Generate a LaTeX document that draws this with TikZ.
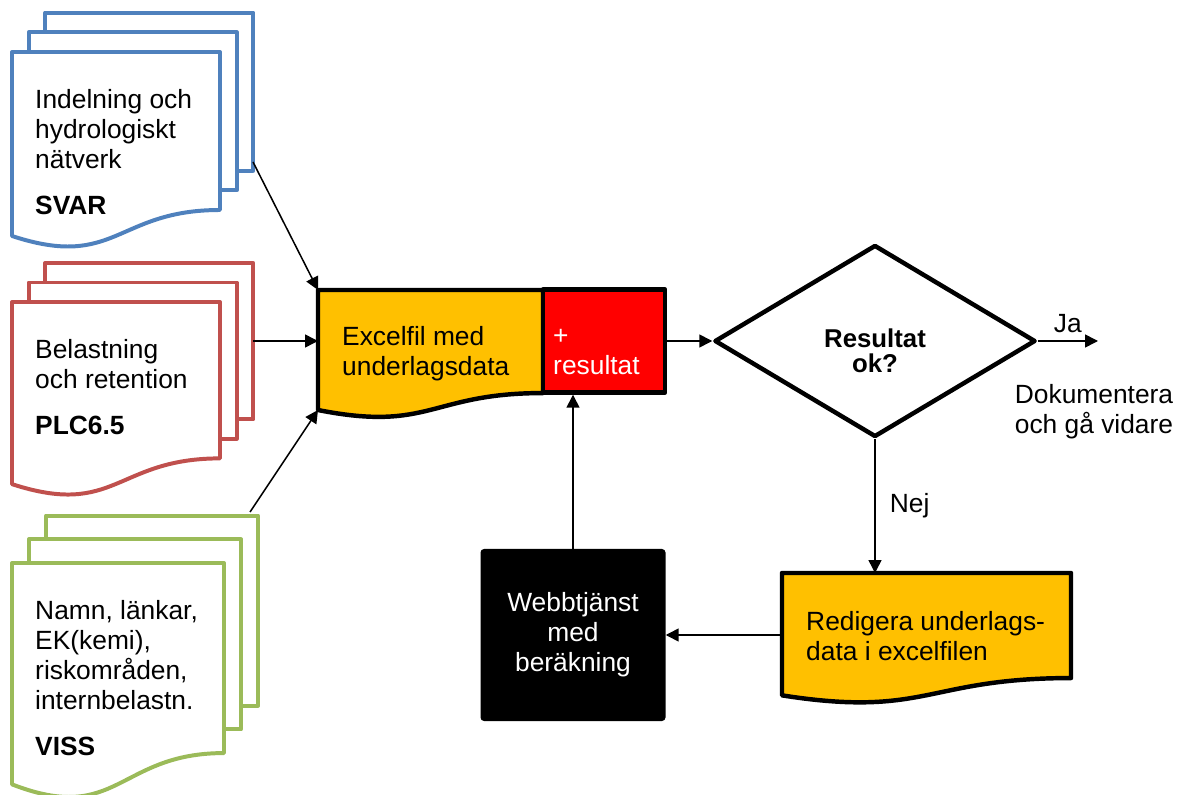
\documentclass[tikz,border=0pt]{standalone}
\usepackage{fontspec}
\setmainfont{Liberation Sans}
\usetikzlibrary{arrows.meta,shapes.geometric}
\definecolor{docblue}{HTML}{4F81BD}
\definecolor{docred}{HTML}{C0504D}
\definecolor{docgreen}{HTML}{9BBB59}
\definecolor{xlorange}{HTML}{FFC000}

% document page with wavy bottom: style, x1, top, x2, height
\newcommand{\docshape}[5]{%
  \draw[#1] (#2,#3) -- (#4,#3) -- (#4,{#3+0.802*#5})
    .. controls ({(#2+#4)/2},{#3+0.802*#5}) and ({(#2+#4)/2},{#3+1.1075*#5})
    .. (#2,{#3+0.934*#5}) -- cycle;}
% stack of three pages
\newcommand{\multidoc}[5]{%
  \pgfmathsetmacro\pgdx{0.08*(#4-#2)}%
  \pgfmathsetmacro\pgdy{0.1*#5}%
  \foreach \k in {2,1}
    \draw[#1] ({#2+\k*\pgdx},{#3-\k*\pgdy}) rectangle ({#4+\k*\pgdx},{#3+0.802*#5-\k*\pgdy});
  \docshape{#1}{#2}{#3}{#4}{#5}}

\begin{document}
\begin{tikzpicture}[x=0.03cm,y=-0.03cm,>={Triangle[length=11pt,width=11pt]},
  every node/.style={font=\fontsize{22.5}{25.6}\selectfont},
  pagedoc/.style={draw=#1,line width=3.4pt,fill=white,line join=round},
  boxline/.style={draw=black,line width=3.8pt,line join=round},
  flow/.style={->,line width=1.3pt}]
  \useasboundingbox (0,0) rectangle (1192,795);
  \clip (0,0) rectangle (1192,795);
  % input documents
  \multidoc{pagedoc=docblue}{12}{52}{220}{197}
  \multidoc{pagedoc=docred}{12}{302}{220}{195}
  \multidoc{pagedoc=docgreen}{12}{563}{224}{237}
  \node[anchor=north west,align=left,inner sep=0] (svar) at (35,89)
    {Indelning och\\hydrologiskt\\nätverk\\[14pt]\textbf{SVAR}};
  \node[anchor=north west,align=left,inner sep=0] (plc) at (35,339)
    {Belastning\\och retention\\[14pt]\textbf{PLC6.5}};
  \node[anchor=north west,align=left,inner sep=0] (viss) at (35,600)
    {Namn, länkar,\\EK(kemi),\\riskområden,\\internbelastn.\\[14pt]\textbf{VISS}};
  \coordinate (svarout) at (253,162);
  \coordinate (plcout) at (253,341);
  \coordinate (vissout) at (250,512);
  % excel file + result
  \docshape{boxline,fill=xlorange}{318}{290}{543}{128.5}
  \node[boxline,fill=red,minimum width=3.66cm,minimum height=3.09cm] (res) at (604,341) {};
  \node[anchor=north west,align=left,inner sep=0] (excel) at (342,326)
    {Excelfil med\\underlagsdata};
  \node[anchor=north west,align=left,inner sep=0,text=white] (restext) at (553,326)
    {\vphantom{E}+\\resultat};
  \coordinate (xlnw) at (318,290);
  \coordinate (xlw) at (318,341);
  \coordinate (xlsw) at (318,410);
  \draw[flow] (svarout) -- (xlnw);
  \draw[flow] (plcout) -- (xlw);
  \draw[flow] (vissout) -- (xlsw);
  % decision
  \node[diamond,boxline,fill=white,minimum width=9.63cm,minimum height=5.76cm,
    inner sep=0] (check) at (875,341) {};
  \node[align=center,inner sep=0,font=\bfseries\fontsize{22}{21}\selectfont]
    (checktext) at (875,351) {Resultat\\ok?};
  \draw[flow] (res.east) -- (check.west);
  \coordinate (jaend) at (1098,341);
  \draw[flow] (check.east) -- (jaend) node[midway,above=6pt,inner sep=0] (ja) {Ja};
  \node[align=center,inner sep=0] (dok) at (1094,412) {Dokumentera\\och gå vidare};
  % edit and recalculate
  \docshape{boxline,fill=xlorange}{782}{573}{1071}{131}
  \node[anchor=north west,align=left,inner sep=0] (edit) at (806,611)
    {Redigera underlags-\\data i excelfilen};
  \coordinate (edittop) at (875,573);
  \coordinate (editw) at (782,635);
  \draw[flow] (check.south) -- (edittop) node[midway,right=12pt,inner sep=0] (nej) {Nej};
  \node[fill=black,rounded corners=3pt,minimum width=5.55cm,minimum height=5.16cm,
    text=white,align=center] (webb) at (573,635) {Webbtjänst\\med\\beräkning};
  \draw[flow] (editw) -- (webb.east);
  \draw[flow] (webb.north) -- (webb.north |- res.south);
\end{tikzpicture}
\end{document}
